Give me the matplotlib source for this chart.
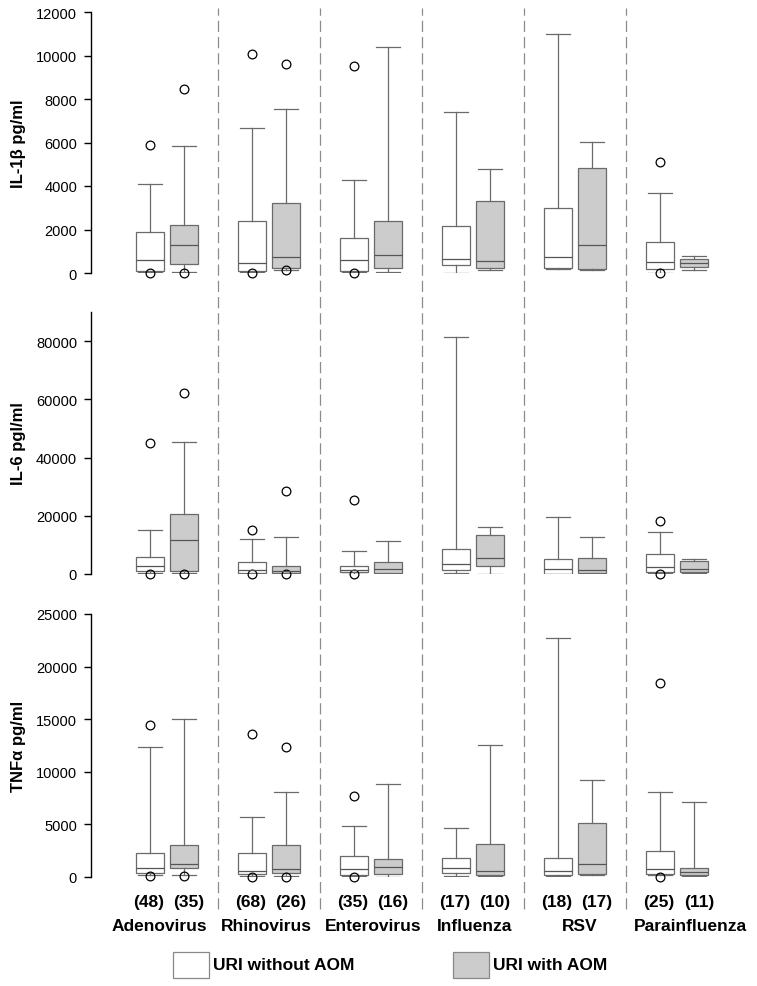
import matplotlib
matplotlib.use('Agg')
import matplotlib.pyplot as plt
from matplotlib.patches import Rectangle
from matplotlib.transforms import blended_transform_factory

plt.rcParams['font.family'] = ['Liberation Sans', 'DejaVu Sans']

viruses = ['Adenovirus', 'Rhinovirus', 'Enterovirus', 'Influenza', 'RSV', 'Parainfluenza']
n_without = [48, 68, 35, 17, 18, 25]
n_with = [35, 26, 16, 10, 17, 11]

# boxes ordered: Adeno w/o, Adeno with, Rhino w/o, Rhino with, ...
il1_lo = [30, 50, 30, 150, 30, 30, 15, 140, 200, 150, 20, 150]
il1_q1 = [100, 400, 100, 230, 90, 215, 355, 245, 245, 200, 170, 260]
il1_med = [600, 1280, 450, 725, 600, 830, 630, 540, 725, 1280, 495, 450]
il1_q3 = [1877, 2185, 2385, 3230, 1615, 2385, 2155, 3310, 2985, 4830, 1415, 630]
il1_hi = [4090, 5820, 6650, 7550, 4260, 10400, 7400, 4770, 11000, 6030, 3680, 785]
il1_fl = [[0, 5880], [0, 8450], [0, 10050], [130, 9620], [0, 9500], [], [], [], [], [], [0, 5120], []]

il6_lo = [200, 300, 100, 100, 100, 100, 200, 100, 50, 100, 200, 200]
il6_q1 = [930, 1000, 350, 300, 550, 450, 1480, 2600, 100, 350, 550, 800]
il6_med = [2650, 11800, 1480, 900, 1240, 1580, 3300, 5400, 1720, 1480, 2400, 1580]
il6_q3 = [5770, 20700, 4050, 2750, 2750, 4000, 8600, 13300, 5160, 5400, 6780, 4550]
il6_hi = [15200, 45500, 12000, 12600, 7900, 11250, 81500, 16100, 19500, 12800, 14550, 5260]
il6_fl = [[0, 45000], [0, 62300], [0, 15100], [0, 28500], [0, 25500], [], [], [], [], [], [0, 18300], []]

tnf_lo = [150, 150, 100, 100, 100, 30, 120, 100, 100, 200, 150, 100]
tnf_q1 = [340, 820, 250, 380, 190, 285, 380, 190, 150, 250, 285, 150]
tnf_med = [855, 1235, 570, 760, 760, 910, 820, 530, 600, 1235, 760, 475]
tnf_q3 = [2280, 3070, 2280, 3040, 2000, 1710, 1800, 3100, 1800, 5130, 2500, 880]
tnf_hi = [12350, 15000, 5700, 8070, 4870, 8830, 4620, 12540, 22700, 9210, 8070, 7120]
tnf_fl = [[50, 14440], [100], [0, 13600], [0, 12380], [0, 7690], [], [], [], [], [], [0, 18480], []]

panels = [
    ('IL-1β pg/ml', il1_lo, il1_q1, il1_med, il1_q3, il1_hi, il1_fl, 12000, range(0, 12001, 2000)),
    ('IL-6 pgl/ml', il6_lo, il6_q1, il6_med, il6_q3, il6_hi, il6_fl, 90000, range(0, 80001, 20000)),
    ('TNFα pg/ml', tnf_lo, tnf_q1, tnf_med, tnf_q3, tnf_hi, tnf_fl, 25000, range(0, 25001, 5000)),
]

H = 987.0
W = 757.0
# (top px, bottom px) of each panel
rows = [(13, 274), (313, 575), (615, 878)]
left = 91 / W
width = 654 / W
xlim = (-1.735, 17.5)

positions = []
for g in range(6):
    positions += [3 * g, 3 * g + 1]

# small horizontal nudges of the virus names, as in the original
name_shift = [-0.22, -0.07, 0.05, 0.05, 0.13, 0.4]

edge = '#6a6a6a'
grey = '#cccccc'

fig = plt.figure(figsize=(7.57, 9.87), dpi=100)

axes = []
for (label, lo, q1, med, q3, hi, fl, ymax, ticks), (top, bot) in zip(panels, rows):
    ax = fig.add_axes([left, 1 - bot / H, width, (bot - top) / H])
    stats = []
    for i in range(12):
        stats.append({'whislo': lo[i], 'q1': q1[i], 'med': med[i], 'q3': q3[i],
                      'whishi': hi[i], 'fliers': fl[i]})
    bp = ax.bxp(stats, positions=positions, widths=0.8, capwidths=0.7,
                patch_artist=True, manage_ticks=False,
                boxprops=dict(edgecolor=edge, linewidth=0.9),
                medianprops=dict(color='#555555', linewidth=0.9),
                whiskerprops=dict(color=edge, linewidth=0.9),
                capprops=dict(color=edge, linewidth=0.9),
                flierprops=dict(marker='o', markerfacecolor='none', markeredgecolor='black',
                                markersize=6.3, markeredgewidth=0.9))
    for i, box in enumerate(bp['boxes']):
        box.set_facecolor('white' if i % 2 == 0 else grey)
    for f in bp['fliers']:
        f.set_clip_on(False)
    ax.set_xlim(*xlim)
    ax.set_ylim(0, ymax)
    ax.set_yticks(list(ticks))
    ax.tick_params(axis='y', direction='out', length=5, width=1, labelsize=10.5, pad=5)
    ax.tick_params(axis='x', bottom=False, labelbottom=False)
    for s in ['top', 'right', 'bottom']:
        ax.spines[s].set_visible(False)
    ax.spines['left'].set_linewidth(1)
    ax.set_facecolor('none')
    ax.set_ylabel(label, fontsize=12, fontweight='bold')
    ax.yaxis.set_label_coords(-0.1, 0.5)
    axes.append(ax)

# dashed separators across all panels
over = fig.add_axes([left, 0, width, 1], zorder=-1)
over.set_xlim(*xlim)
over.set_ylim(0, 1)
over.axis('off')
for g in range(5):
    over.plot([3 * g + 2, 3 * g + 2], [1 - 910 / H, 1 - 9 / H], color='#8c8c8c',
              linewidth=0.9, linestyle=(0, (9, 4)))

# counts and virus names under the bottom panel
trans = blended_transform_factory(axes[2].transData, fig.transFigure)
for g in range(6):
    axes[2].text(3 * g - 0.05, 1 - 903 / H, '(%d)' % n_without[g], transform=trans,
                 ha='center', va='center', fontsize=12.5, fontweight='bold')
    axes[2].text(3 * g + 1.15, 1 - 903 / H, '(%d)' % n_with[g], transform=trans,
                 ha='center', va='center', fontsize=12.5, fontweight='bold')
    axes[2].text(3 * g + 0.5 + name_shift[g], 1 - 927 / H, viruses[g], transform=trans,
                 ha='center', va='center', fontsize=12.5, fontweight='bold')

# legend
fig.patches.append(Rectangle((173 / W, 1 - 979 / H), 36 / W, 26 / H, transform=fig.transFigure,
                             facecolor='white', edgecolor='#888888', linewidth=0.9))
fig.text(213 / W, 1 - 966 / H, 'URI without AOM', ha='left', va='center',
         fontsize=12.5, fontweight='bold')
fig.patches.append(Rectangle((453 / W, 1 - 979 / H), 36 / W, 26 / H, transform=fig.transFigure,
                             facecolor=grey, edgecolor='#888888', linewidth=0.9))
fig.text(493 / W, 1 - 966 / H, 'URI with AOM', ha='left', va='center',
         fontsize=12.5, fontweight='bold')

fig.savefig('out.png', dpi=100)
